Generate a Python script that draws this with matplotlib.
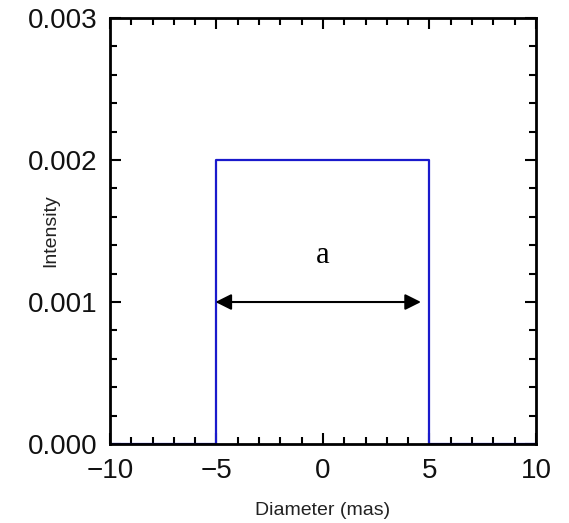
import matplotlib
matplotlib.use("Agg")
import matplotlib.pyplot as plt
from matplotlib.ticker import MultipleLocator, FormatStrFormatter

x_vals = [-10, -5, -5, 5, 5, 10]
intensity = [0.0, 0.0, 0.002, 0.002, 0.0, 0.0]
x_ticks = [-10, -5, 0, 5, 10]
y_ticks = [0.000, 0.001, 0.002, 0.003]
arrow_span = [-5, 5]
arrow_level = 0.001
label_text = "a"

plt.rcParams['font.family'] = ['Liberation Sans', 'DejaVu Sans']

fig = plt.figure(figsize=(5.69, 5.23), dpi=100)
ax = fig.add_axes([0.1933, 0.151, 0.7487, 0.8146])
ax.plot(x_vals, intensity, color='#1a1acc', lw=1.6)
ax.set_xlim(-10, 10)
ax.set_ylim(0, 0.003)
ax.set_xticks(x_ticks)
ax.set_yticks(y_ticks)
ax.yaxis.set_major_formatter(FormatStrFormatter('%.3f'))
ax.xaxis.set_minor_locator(MultipleLocator(1))
ax.yaxis.set_minor_locator(MultipleLocator(0.0002))
ax.tick_params(which='both', direction='in', top=True, right=True, width=1.5, labelsize=20,
               labelcolor='#111111')
ax.tick_params(which='major', length=8)
ax.tick_params(which='minor', length=5)
ax.tick_params(axis='y', which='major', pad=9)
ax.tick_params(axis='x', which='major', pad=10)
for s in ax.spines.values():
    s.set_linewidth(2)
ax.set_xlabel('Diameter (mas)', fontsize=14, color='#222222')
ax.set_ylabel('Intensity', fontsize=14, color='#222222')
ax.xaxis.set_label_coords(0.5, -0.137)
ax.yaxis.set_label_coords(-0.12, 0.50)

ax.annotate('', xy=(arrow_span[0] - 0.05, arrow_level), xytext=(arrow_span[1] - 0.4, arrow_level),
            arrowprops=dict(arrowstyle='<|-|>', color='black', lw=1.5, mutation_scale=24,
                            shrinkA=0, shrinkB=0))
ax.text(0, 0.00133, label_text, fontsize=22, family=['Liberation Serif'], ha='center', va='center')

fig.savefig('out.png', dpi=100)
